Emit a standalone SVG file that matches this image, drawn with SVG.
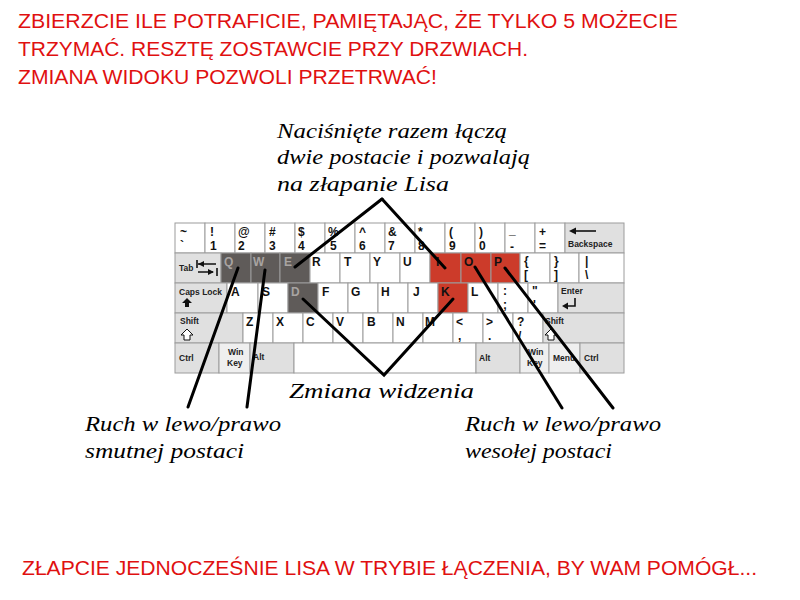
<svg xmlns="http://www.w3.org/2000/svg" width="800" height="600" viewBox="0 0 800 600">
<style>
.k{fill:#fff;stroke:#9c9c9c;stroke-width:1}
.g{fill:#e0e0e0}
.w{fill:#efefef}
.d{fill:#5f5b59}
.r{fill:#cc3b2a}
.l{font-family:"Liberation Sans",Arial,sans-serif;font-weight:bold;font-size:12px;fill:#111}
.dl{fill:#a8a4a2}
.s{font-family:"Liberation Sans",Arial,sans-serif;font-weight:bold;font-size:8.5px;fill:#222}
.red{font-family:"Liberation Sans",Arial,sans-serif;font-size:20px;fill:#e01010}
.hw{font-family:"Liberation Serif","Times New Roman",serif;font-style:italic;font-size:21px;fill:#000}
.c{stroke:#000;stroke-width:3;stroke-linecap:round;fill:none}
.ic{stroke:#111;stroke-width:1.6;fill:none}
</style>
<rect width="800" height="600" fill="#fff"/>

<g id="header">
<text class="red" x="18" y="28" textLength="660" lengthAdjust="spacingAndGlyphs">ZBIERZCIE ILE POTRAFICIE, PAMIĘTAJĄC, ŻE TYLKO 5 MOŻECIE</text>
<text class="red" x="18" y="56" textLength="510" lengthAdjust="spacingAndGlyphs">TRZYMAĆ. RESZTĘ ZOSTAWCIE PRZY DRZWIACH.</text>
<text class="red" x="18" y="84" textLength="419" lengthAdjust="spacingAndGlyphs">ZMIANA WIDOKU POZWOLI PRZETRWAĆ!</text>
</g>

<g id="keyboard">
<!-- row 1 -->
<g id="key-tilde"><rect class="k" x="175" y="223" width="30" height="30"/><text class="l" x="180" y="236">~</text><text class="l" x="180" y="250">`</text></g>
<g id="key-1"><rect class="k" x="205" y="223" width="30" height="30"/><text class="l" x="210" y="236">!</text><text class="l" x="210" y="250">1</text></g>
<g id="key-2"><rect class="k" x="235" y="223" width="30" height="30"/><text class="l" x="238" y="236">@</text><text class="l" x="238" y="250">2</text></g>
<g id="key-3"><rect class="k" x="265" y="223" width="30" height="30"/><text class="l" x="269" y="236">#</text><text class="l" x="269" y="250">3</text></g>
<g id="key-4"><rect class="k" x="295" y="223" width="30" height="30"/><text class="l" x="298" y="236">$</text><text class="l" x="298" y="250">4</text></g>
<g id="key-5"><rect class="k" x="325" y="223" width="30" height="30"/><text class="l" x="328" y="236">%</text><text class="l" x="330" y="250">5</text></g>
<g id="key-6"><rect class="k" x="355" y="223" width="30" height="30"/><text class="l" x="359" y="236">^</text><text class="l" x="359" y="250">6</text></g>
<g id="key-7"><rect class="k" x="385" y="223" width="30" height="30"/><text class="l" x="388" y="236">&amp;</text><text class="l" x="388" y="250">7</text></g>
<g id="key-8"><rect class="k" x="415" y="223" width="30" height="30"/><text class="l" x="418" y="236">*</text><text class="l" x="418" y="250">8</text></g>
<g id="key-9"><rect class="k" x="445" y="223" width="30" height="30"/><text class="l" x="449" y="236">(</text><text class="l" x="449" y="250">9</text></g>
<g id="key-0"><rect class="k" x="475" y="223" width="30" height="30"/><text class="l" x="479" y="236">)</text><text class="l" x="479" y="250">0</text></g>
<g id="key-minus"><rect class="k" x="505" y="223" width="30" height="30"/><text class="l" x="509" y="234">_</text><text class="l" x="510" y="251">-</text></g>
<g id="key-equal"><rect class="k" x="535" y="223" width="30" height="30"/><text class="l" x="539" y="236">+</text><text class="l" x="539" y="250">=</text></g>
<g id="key-backspace"><rect class="k g" x="565" y="223" width="59" height="30"/><path class="ic" d="M574 231H596"/><path d="M569 231l7-3.5v7z" fill="#111"/><text class="s" x="568" y="247">Backspace</text></g>
<!-- row 2 -->
<g id="key-tab"><rect class="k g" x="175" y="253" width="46" height="30"/><text class="s" x="179" y="271">Tab</text><path class="ic" d="M197 260v8M198 264H216M213 272H198M217 268v8"/><path d="M198 264l6-3v6z M214 272l-6-3v6z" fill="#111"/></g>
<g id="key-q"><rect class="k d" x="221" y="253" width="30" height="30"/><text class="l dl" x="224" y="266">Q</text></g>
<g id="key-w"><rect class="k d" x="251" y="253" width="29" height="30"/><text class="l dl" x="253" y="266">W</text></g>
<g id="key-e"><rect class="k d" x="280" y="253" width="30" height="30"/><text class="l dl" x="284" y="266">E</text></g>
<g id="key-r"><rect class="k" x="310" y="253" width="30" height="30"/><text class="l" x="312" y="266">R</text></g>
<g id="key-t"><rect class="k" x="340" y="253" width="30" height="30"/><text class="l" x="344" y="266">T</text></g>
<g id="key-y"><rect class="k" x="370" y="253" width="30" height="30"/><text class="l" x="373" y="266">Y</text></g>
<g id="key-u"><rect class="k" x="400" y="253" width="30" height="30"/><text class="l" x="403" y="266">U</text></g>
<g id="key-i"><rect class="k r" x="430" y="253" width="31" height="30"/><text class="l" x="436" y="266">I</text></g>
<g id="key-o"><rect class="k r" x="461" y="253" width="30" height="30"/><text class="l" x="464" y="266">O</text></g>
<g id="key-p"><rect class="k r" x="491" y="253" width="29" height="30"/><text class="l" x="494" y="266">P</text></g>
<g id="key-lbrace"><rect class="k" x="520" y="253" width="30" height="30"/><text class="l" x="524" y="265">{</text><text class="l" x="524" y="279">[</text></g>
<g id="key-rbrace"><rect class="k" x="550" y="253" width="29" height="30"/><text class="l" x="554" y="265">}</text><text class="l" x="554" y="279">]</text></g>
<g id="key-pipe"><rect class="k" x="579" y="253" width="45" height="30"/><text class="l" x="585" y="265">|</text><text class="l" x="585" y="279">\</text></g>
<!-- row 3 -->
<g id="key-caps"><rect class="k g" x="175" y="283" width="52" height="30"/><text class="s" x="179" y="295">Caps Lock</text><path d="M187 298l-5 5h3v4h4v-4h3z" fill="#111"/></g>
<g id="key-a"><rect class="k" x="227" y="283" width="31" height="30"/><text class="l" x="231" y="296">A</text></g>
<g id="key-s"><rect class="k" x="258" y="283" width="30" height="30"/><text class="l" x="262" y="296">S</text></g>
<g id="key-d"><rect class="k d" x="288" y="283" width="30" height="30"/><text class="l dl" x="291" y="296">D</text></g>
<g id="key-f"><rect class="k" x="318" y="283" width="30" height="30"/><text class="l" x="322" y="296">F</text></g>
<g id="key-g"><rect class="k" x="348" y="283" width="30" height="30"/><text class="l" x="351" y="296">G</text></g>
<g id="key-h"><rect class="k" x="378" y="283" width="30" height="30"/><text class="l" x="381" y="296">H</text></g>
<g id="key-j"><rect class="k" x="408" y="283" width="30" height="30"/><text class="l" x="413" y="296">J</text></g>
<g id="key-k"><rect class="k r" x="438" y="283" width="30" height="30"/><text class="l" x="441" y="296">K</text></g>
<g id="key-l"><rect class="k" x="468" y="283" width="30" height="30"/><text class="l" x="471" y="296">L</text></g>
<g id="key-semicolon"><rect class="k" x="498" y="283" width="30" height="30"/><text class="l" x="503" y="295">:</text><text class="l" x="503" y="309">;</text></g>
<g id="key-quote"><rect class="k" x="528" y="283" width="30" height="30"/><text class="l" x="532" y="295">"</text><text class="l" x="533" y="309">'</text></g>
<g id="key-enter"><rect class="k g" x="558" y="283" width="66" height="30"/><text class="s" x="561" y="294">Enter</text><path class="ic" d="M575 298v8H566"/><path d="M562 306l6-3.5v7z" fill="#111"/></g>
<!-- row 4 -->
<g id="key-lshift"><rect class="k g" x="175" y="313" width="68" height="30"/><text class="s" x="180" y="324">Shift</text><path d="M187 329l-6 6h3v5h6v-5h3z" fill="#fff" stroke="#111" stroke-width="1"/></g>
<g id="key-z"><rect class="k" x="243" y="313" width="30" height="30"/><text class="l" x="246" y="326">Z</text></g>
<g id="key-x"><rect class="k" x="273" y="313" width="30" height="30"/><text class="l" x="276" y="326">X</text></g>
<g id="key-c"><rect class="k" x="303" y="313" width="30" height="30"/><text class="l" x="306" y="326">C</text></g>
<g id="key-v"><rect class="k" x="333" y="313" width="30" height="30"/><text class="l" x="336" y="326">V</text></g>
<g id="key-b"><rect class="k" x="363" y="313" width="30" height="30"/><text class="l" x="367" y="326">B</text></g>
<g id="key-n"><rect class="k" x="393" y="313" width="30" height="30"/><text class="l" x="396" y="326">N</text></g>
<g id="key-m"><rect class="k" x="423" y="313" width="30" height="30"/><text class="l" x="425" y="326">M</text></g>
<g id="key-comma"><rect class="k" x="453" y="313" width="30" height="30"/><text class="l" x="456" y="326">&lt;</text><text class="l" x="458" y="340">,</text></g>
<g id="key-period"><rect class="k" x="483" y="313" width="30" height="30"/><text class="l" x="486" y="326">&gt;</text><text class="l" x="488" y="340">.</text></g>
<g id="key-slash"><rect class="k" x="513" y="313" width="30" height="30"/><text class="l" x="517" y="326">?</text><text class="l" x="518" y="340">/</text></g>
<g id="key-rshift"><rect class="k g" x="543" y="313" width="81" height="30"/><text class="s" x="545" y="324">Shift</text><path d="M551 329l-6 6h3v5h6v-5h3z" fill="#fff" stroke="#111" stroke-width="1"/></g>
<!-- row 5 -->
<g id="key-lctrl"><rect class="k g" x="175" y="343" width="44" height="30"/><text class="s" x="179" y="361">Ctrl</text></g>
<g id="key-lwin"><rect class="k w" x="219" y="343" width="31" height="30"/><text class="s" x="228" y="355">Win</text><text class="s" x="227" y="366">Key</text></g>
<g id="key-lalt"><rect class="k g" x="250" y="343" width="44" height="30"/><text class="s" x="253" y="360">Alt</text></g>
<g id="key-space"><rect class="k" x="294" y="343" width="182" height="30"/></g>
<g id="key-ralt"><rect class="k g" x="476" y="343" width="44" height="30"/><text class="s" x="479" y="361">Alt</text></g>
<g id="key-rwin"><rect class="k w" x="520" y="343" width="29" height="30"/><text class="s" x="528" y="355">Win</text><text class="s" x="527" y="366">Key</text></g>
<g id="key-menu"><rect class="k w" x="549" y="343" width="31" height="30"/><text class="s" x="553" y="361">Menu</text></g>
<g id="key-rctrl"><rect class="k g" x="580" y="343" width="44" height="30"/><text class="s" x="584" y="361">Ctrl</text></g>
</g>

<g id="connectors">
<path class="c" d="M382 199L295 267"/>
<path class="c" d="M382 199L445 268"/>
<path class="c" d="M303 299L384 375L453 299"/>
<path class="c" d="M238 268L188 407"/>
<path class="c" d="M265 270L247 407"/>
<path class="c" d="M475 267L562 408"/>
<path class="c" d="M505 268L613 408"/>
</g>

<g id="label-join">
<text class="hw" x="277" y="138" textLength="230" lengthAdjust="spacingAndGlyphs">Naciśnięte razem łączą</text>
<text class="hw" x="277" y="164" textLength="253" lengthAdjust="spacingAndGlyphs">dwie postacie i pozwalają</text>
<text class="hw" x="277" y="191" textLength="172" lengthAdjust="spacingAndGlyphs">na złapanie Lisa</text>
</g>
<g id="label-view">
<text class="hw" x="289" y="398" textLength="185" lengthAdjust="spacingAndGlyphs">Zmiana widzenia</text>
</g>
<g id="label-sad">
<text class="hw" x="85" y="431" textLength="196" lengthAdjust="spacingAndGlyphs">Ruch w lewo/prawo</text>
<text class="hw" x="85" y="458" textLength="159" lengthAdjust="spacingAndGlyphs">smutnej postaci</text>
</g>
<g id="label-happy">
<text class="hw" x="465" y="431" textLength="196" lengthAdjust="spacingAndGlyphs">Ruch w lewo/prawo</text>
<text class="hw" x="465" y="458" textLength="147" lengthAdjust="spacingAndGlyphs">wesołej postaci</text>
</g>

<g id="footer">
<text class="red" x="22" y="575" textLength="735" lengthAdjust="spacingAndGlyphs">ZŁAPCIE JEDNOCZEŚNIE LISA W TRYBIE ŁĄCZENIA, BY WAM POMÓGŁ...</text>
</g>
</svg>
